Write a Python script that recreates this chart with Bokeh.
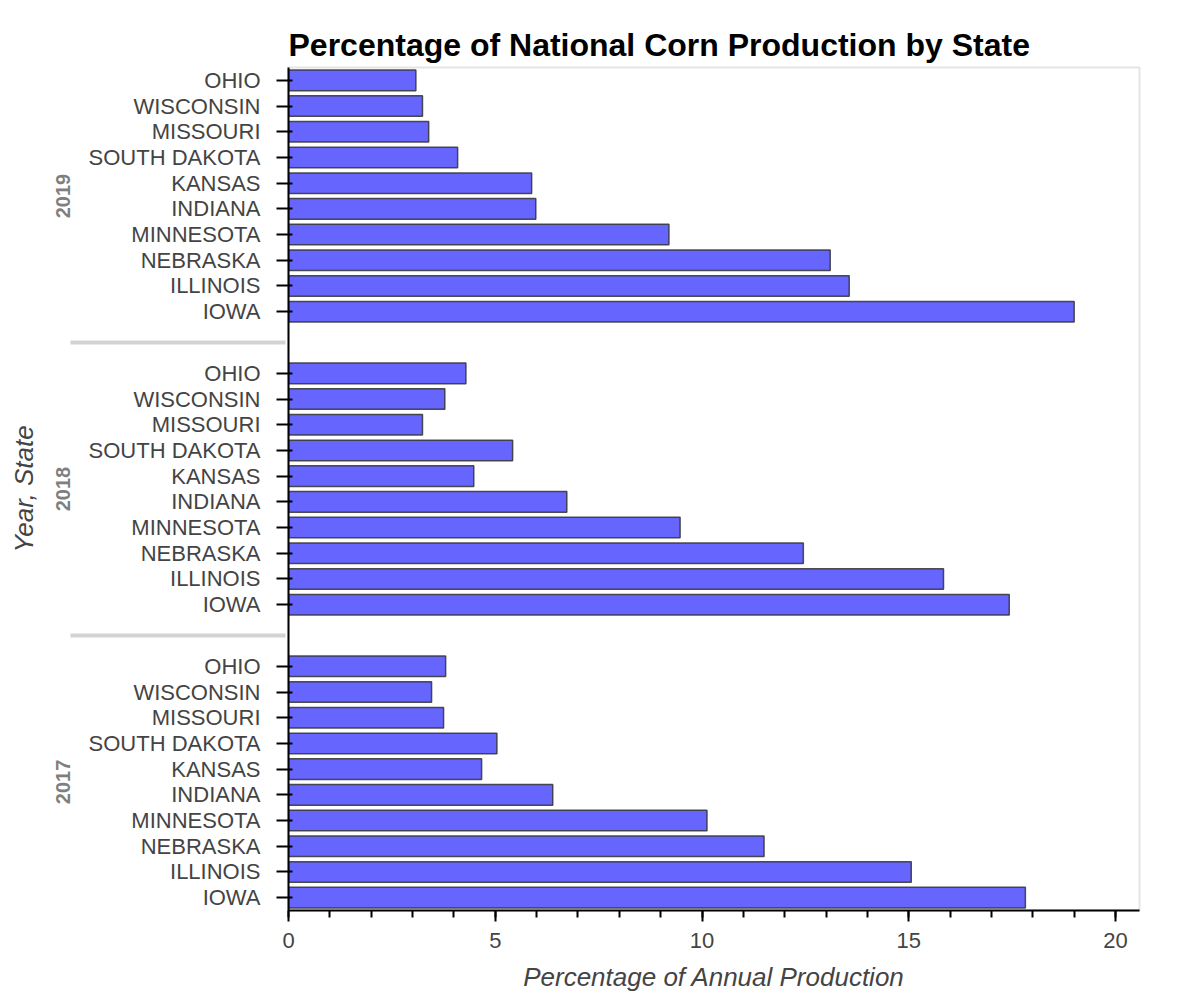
from bokeh.plotting import figure
from bokeh.models import FactorRange, Range1d, FixedTicker
from bokeh.embed import file_html
from bokeh.resources import INLINE

years = ["2017", "2018", "2019"]
states = ["IOWA", "ILLINOIS", "NEBRASKA", "MINNESOTA", "INDIANA",
          "KANSAS", "SOUTH DAKOTA", "MISSOURI", "WISCONSIN", "OHIO"]
pct_2017 = [17.82, 15.06, 11.50, 10.12, 6.39, 4.67, 5.04, 3.75, 3.46, 3.80]
pct_2018 = [17.43, 15.84, 12.45, 9.47, 6.73, 4.48, 5.42, 3.24, 3.78, 4.29]
pct_2019 = [19.00, 13.56, 13.10, 9.20, 5.98, 5.88, 4.09, 3.39, 3.24, 3.08]
x_ticks = [0, 5, 10, 15, 20]
x_minor_ticks = list(range(0, 21))

values_by_year = {"2017": pct_2017, "2018": pct_2018, "2019": pct_2019}
factors = [(y, s) for y in years for s in states]
values = [v for y in years for v in values_by_year[y]]

FONT = "Liberation Sans"

p = figure(
    y_range=FactorRange(*factors, range_padding=0, group_padding=1.4),
    x_range=Range1d(0, 20.58),
    frame_width=851, frame_height=843,
    output_backend="svg", toolbar_location=None,
    title="Percentage of National Corn Production by State",
    x_axis_label="Percentage of Annual Production",
    y_axis_label="Year, State",
    min_border_right=40, min_border_top=67, min_border_bottom=10, min_border_left=288,
)

p.hbar(y=factors, right=values, left=0, height=0.8,
       fill_color="#6666FF", line_color="#333333", line_alpha=0.85, line_width=1.5)

p.title.text_font = FONT
p.title.text_font_size = "32px"
p.title.text_font_style = "bold"
p.title.text_color = "black"

p.outline_line_color = "#e5e5e5"
p.outline_line_width = 2
p.grid.grid_line_color = None

for ax in (p.xaxis[0], p.yaxis[0]):
    ax.axis_line_width = 2
    ax.major_tick_line_width = 2
    ax.minor_tick_line_width = 2
    ax.major_label_text_font = FONT
    ax.major_label_text_font_size = "22px"
    ax.major_label_text_color = "#444444"
    ax.axis_label_text_font = FONT
    ax.axis_label_text_font_size = "26px"
    ax.axis_label_text_font_style = "italic"
    ax.axis_label_text_color = "#444444"

p.xaxis[0].ticker = FixedTicker(ticks=x_ticks, minor_ticks=x_minor_ticks)
p.xaxis.major_tick_out = 11
p.xaxis.major_tick_in = 0
p.xaxis.minor_tick_out = 7
p.xaxis.minor_tick_in = 0
p.xaxis.major_label_standoff = 11
p.xaxis.axis_label_standoff = 11

p.yaxis.major_tick_out = 12
p.yaxis.major_tick_in = 4
p.yaxis.major_label_standoff = 16
p.yaxis.axis_label_standoff = 14
p.yaxis.group_text_font = FONT
p.yaxis.group_text_font_size = "20px"
p.yaxis.group_text_font_style = "bold"
p.yaxis.group_text_color = "#7f7f7f"
p.yaxis.separator_line_color = "#d3d3d3"
p.yaxis.separator_line_width = 4

open("out.html", "w").write(file_html(p, INLINE))
